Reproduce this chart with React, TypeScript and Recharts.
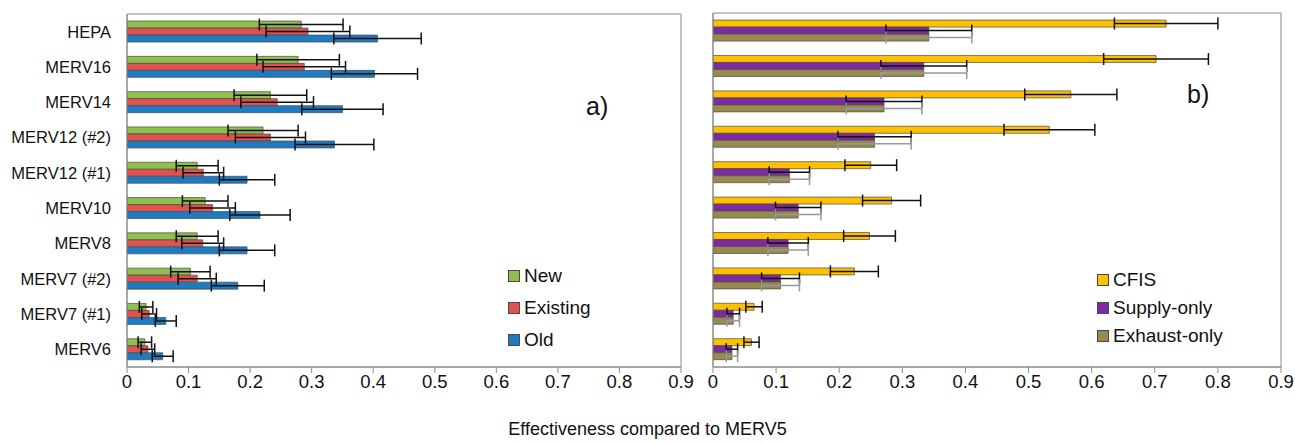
import { BarChart, Bar, XAxis, YAxis, ErrorBar, ReferenceArea } from 'recharts'

const categories = ['HEPA', 'MERV16', 'MERV14', 'MERV12 (#2)', 'MERV12 (#1)', 'MERV10', 'MERV8', 'MERV7 (#2)', 'MERV7 (#1)', 'MERV6']

// panel a) - house age
const newVals = [0.283, 0.278, 0.233, 0.221, 0.114, 0.127, 0.114, 0.103, 0.031, 0.029]
const newErr = [0.068, 0.067, 0.059, 0.057, 0.034, 0.037, 0.034, 0.032, 0.011, 0.011]
const existingVals = [0.294, 0.288, 0.244, 0.233, 0.124, 0.139, 0.123, 0.114, 0.036, 0.034]
const existingErr = [0.068, 0.067, 0.059, 0.057, 0.033, 0.037, 0.034, 0.031, 0.012, 0.011]
const oldVals = [0.407, 0.402, 0.35, 0.337, 0.195, 0.216, 0.195, 0.18, 0.063, 0.058]
const oldErr = [0.071, 0.07, 0.066, 0.064, 0.045, 0.049, 0.045, 0.043, 0.017, 0.017]

// panel b) - ventilation type
const cfisVals = [0.718, 0.702, 0.567, 0.533, 0.25, 0.283, 0.248, 0.224, 0.065, 0.061]
const cfisErr = [0.082, 0.083, 0.073, 0.072, 0.041, 0.046, 0.041, 0.038, 0.013, 0.012]
const supplyVals = [0.342, 0.334, 0.271, 0.256, 0.121, 0.135, 0.119, 0.107, 0.032, 0.03]
const supplyErr = [0.068, 0.068, 0.06, 0.058, 0.032, 0.036, 0.032, 0.03, 0.01, 0.009]
const exhaustVals = [0.342, 0.334, 0.271, 0.256, 0.121, 0.135, 0.119, 0.107, 0.032, 0.03]
const exhaustErr = [0.068, 0.068, 0.06, 0.058, 0.032, 0.036, 0.032, 0.03, 0.01, 0.009]

const xTicks = [0, 0.1, 0.2, 0.3, 0.4, 0.5, 0.6, 0.7, 0.8, 0.9]

const leftData = categories.map((name, i) => ({
  name,
  newV: newVals[i], newE: newErr[i],
  existingV: existingVals[i], existingE: existingErr[i],
  oldV: oldVals[i], oldE: oldErr[i],
}))

const rightData = categories.map((name, i) => ({
  name,
  cfisV: cfisVals[i], cfisE: cfisErr[i],
  supplyV: supplyVals[i], supplyE: supplyErr[i],
  exhaustV: exhaustVals[i], exhaustE: exhaustErr[i],
}))

const FONT = '"Liberation Sans", Arial, sans-serif'
const AXIS = '#8a8a8a'
const OUTLINE = '#4a4a4a'

const leftSeries = [
  { label: 'New', color: '#8fbf4d' },
  { label: 'Existing', color: '#e0514f' },
  { label: 'Old', color: '#1f7bc1' },
]
const rightSeries = [
  { label: 'CFIS', color: '#ffc000' },
  { label: 'Supply-only', color: '#7e2aa3' },
  { label: 'Exhaust-only', color: '#968a4e' },
]

function LegendBox({ items, left, top, row }: { items: { label: string; color: string }[]; left: number; top: number; row: number }) {
  return (
    <div style={{ position: 'absolute', left, top, fontFamily: FONT, fontSize: 19, color: '#111' }}>
      {items.map(it => (
        <div key={it.label} style={{ height: row, display: 'flex', alignItems: 'center' }}>
          <span style={{ width: 10, height: 10, background: it.color, border: `1px solid ${OUTLINE}`, marginRight: 4, display: 'inline-block' }} />
          {it.label}
        </div>
      ))}
    </div>
  )
}

export default function App() {
  const tickStyle = { fontSize: 18.5, fill: '#111', fontFamily: FONT }
  return (
    <div style={{ position: 'absolute', left: 0, top: 0, width: 1295, height: 443, background: '#fff', fontFamily: FONT }}>
      <div style={{ position: 'absolute', left: 0, top: 0 }}>
        <BarChart width={700} height={443} data={leftData} layout="vertical" margin={{ top: 14, right: 19, bottom: 46, left: 0 }} barCategoryGap="20%" barGap={0}>
          <XAxis type="number" domain={[0, 0.9]} ticks={xTicks} allowDataOverflow interval={0} tick={tickStyle} tickLine={{ stroke: AXIS }} tickSize={6} axisLine={{ stroke: AXIS }} height={30} />
          <YAxis type="category" dataKey="name" width={127} tick={{ fontSize: 16.5, fill: '#111', fontFamily: FONT }} tickLine={false} tickSize={0} tickMargin={16} axisLine={{ stroke: AXIS }} />
          <ReferenceArea x1={0} x2={0.9} fill="#fff" fillOpacity={0} stroke={AXIS} strokeWidth={1} />
          <Bar dataKey="newV" fill={leftSeries[0].color} stroke={OUTLINE} strokeWidth={0.7} isAnimationActive={false}>
            <ErrorBar dataKey="newE" direction="x" width={6} stroke="#111" strokeWidth={1.5} />
          </Bar>
          <Bar dataKey="existingV" fill={leftSeries[1].color} stroke={OUTLINE} strokeWidth={0.7} isAnimationActive={false}>
            <ErrorBar dataKey="existingE" direction="x" width={6} stroke="#111" strokeWidth={1.5} />
          </Bar>
          <Bar dataKey="oldV" fill={leftSeries[2].color} stroke={OUTLINE} strokeWidth={0.7} isAnimationActive={false}>
            <ErrorBar dataKey="oldE" direction="x" width={6} stroke="#111" strokeWidth={1.5} />
          </Bar>
        </BarChart>
      </div>
      <div style={{ position: 'absolute', left: 700, top: 0 }}>
        <BarChart width={595} height={443} data={rightData} layout="vertical" margin={{ top: 13, right: 14, bottom: 46, left: 0 }} barCategoryGap="20%" barGap={0}>
          <XAxis type="number" domain={[0, 0.9]} ticks={xTicks} allowDataOverflow interval={0} tick={tickStyle} tickLine={{ stroke: AXIS }} tickSize={6} axisLine={{ stroke: AXIS }} height={30} />
          <YAxis type="category" dataKey="name" width={13} tick={false} tickLine={false} axisLine={{ stroke: AXIS }} />
          <ReferenceArea x1={0} x2={0.9} fill="#fff" fillOpacity={0} stroke={AXIS} strokeWidth={1} />
          <Bar dataKey="cfisV" fill={rightSeries[0].color} stroke={OUTLINE} strokeWidth={0.7} isAnimationActive={false}>
            <ErrorBar dataKey="cfisE" direction="x" width={6} stroke="#111" strokeWidth={1.5} />
          </Bar>
          <Bar dataKey="supplyV" fill={rightSeries[1].color} stroke={OUTLINE} strokeWidth={0.7} isAnimationActive={false}>
            <ErrorBar dataKey="supplyE" direction="x" width={6} stroke="#111" strokeWidth={1.5} />
          </Bar>
          <Bar dataKey="exhaustV" fill={rightSeries[2].color} stroke={OUTLINE} strokeWidth={0.7} isAnimationActive={false}>
            <ErrorBar dataKey="exhaustE" direction="x" width={6} stroke="#999" strokeWidth={1.5} />
          </Bar>
        </BarChart>
      </div>
      <LegendBox items={leftSeries} left={508} top={260} row={32} />
      <LegendBox items={rightSeries} left={1097} top={266} row={28} />
      <div style={{ position: 'absolute', left: 586, top: 92, fontSize: 25, color: '#111' }}>a)</div>
      <div style={{ position: 'absolute', left: 1187, top: 80, fontSize: 25, color: '#111' }}>b)</div>
      <div style={{ position: 'absolute', left: 0, width: 1295, top: 419, textAlign: 'center', fontSize: 18, color: '#111' }}>
        Effectiveness compared to MERV5
      </div>
    </div>
  )
}
